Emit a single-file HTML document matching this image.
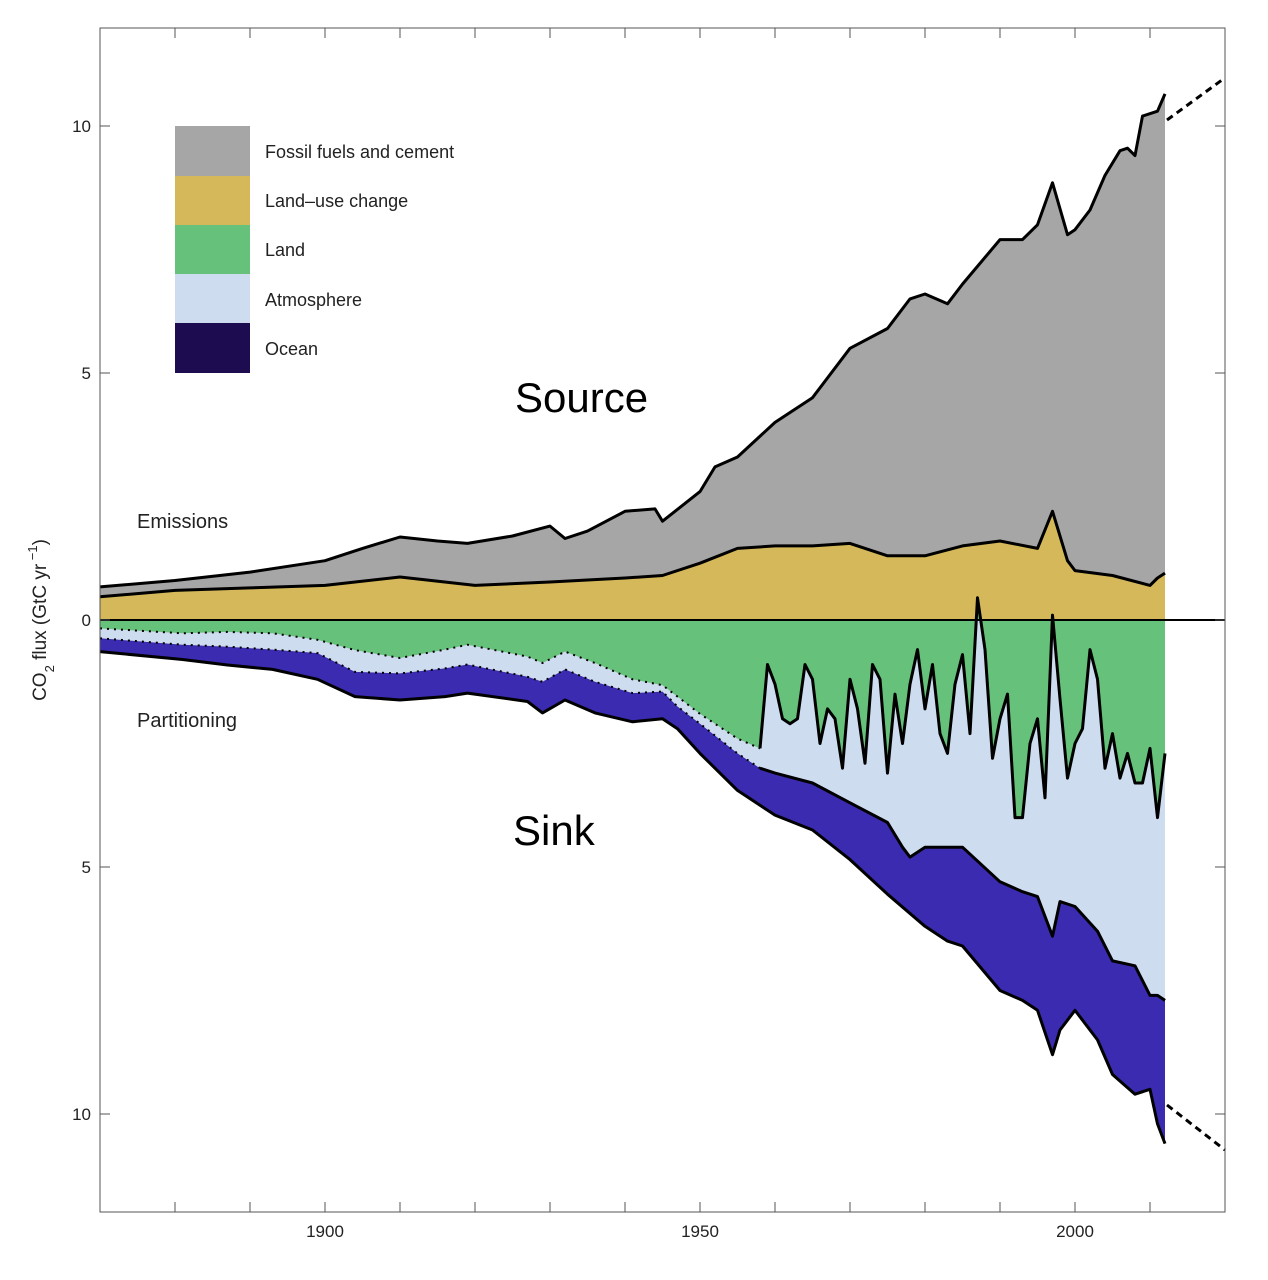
<!DOCTYPE html>
<html><head><meta charset="utf-8"><style>
body{margin:0;background:#fff;}
svg{display:block;font-family:"Liberation Sans",sans-serif;}
</style></head><body>
<svg id="chart" width="1268" height="1280" viewBox="0 0 1268 1280" xmlns="http://www.w3.org/2000/svg">
<g id="areas"></g>
<g id="axes"></g>
<g font-size="18" fill="#222">
<rect x="175" y="126" width="75" height="50" fill="#a6a6a6"/>
<rect x="175" y="176" width="75" height="49" fill="#d4b85a"/>
<rect x="175" y="225" width="75" height="49" fill="#66c27a"/>
<rect x="175" y="274" width="75" height="49" fill="#cedcef"/>
<rect x="175" y="323" width="75" height="50" fill="#1d0c50"/>
<text x="265" y="158">Fossil fuels and cement</text>
<text x="265" y="207">Land–use change</text>
<text x="265" y="256">Land</text>
<text x="265" y="306">Atmosphere</text>
<text x="265" y="355">Ocean</text>
</g>
<text x="515" y="412" font-size="42" fill="#000">Source</text>
<text x="513" y="845" font-size="42" fill="#000">Sink</text>
<text x="137" y="528" font-size="20" fill="#222">Emissions</text>
<text x="137" y="727" font-size="20" fill="#222">Partitioning</text>
<text transform="translate(46,620) rotate(-90)" text-anchor="middle" font-size="19" fill="#222">CO<tspan font-size="13" dy="8">2</tspan><tspan dy="-8"> flux (GtC yr</tspan><tspan font-size="13" dy="-9"> −1</tspan><tspan dy="9">)</tspan></text>
</svg>
<script>
const fossilYears=[1870,1880,1890,1900,1905,1910,1915,1919,1925,1930,1932,1935,1940,1944,1945,1950,1952,1955,1960,1965,1970,1975,1978,1980,1983,1985,1990,1993,1995,1997,1999,2000,2002,2004,2006,2007,2008,2009,2011,2012];
const fossilTotal=[0.67,0.8,0.97,1.2,1.45,1.68,1.6,1.55,1.7,1.9,1.65,1.8,2.2,2.25,2.0,2.6,3.1,3.3,4.0,4.5,5.5,5.9,6.5,6.6,6.4,6.8,7.7,7.7,8.0,8.85,7.8,7.9,8.3,9.0,9.5,9.55,9.4,10.2,10.3,10.65];
const lucYears=[1870,1880,1890,1900,1910,1920,1930,1940,1945,1950,1955,1960,1965,1970,1975,1980,1985,1990,1995,1997,1999,2000,2005,2010,2011,2012];
const lucTop=[0.47,0.6,0.65,0.7,0.87,0.7,0.77,0.85,0.9,1.15,1.45,1.5,1.5,1.55,1.3,1.3,1.5,1.6,1.45,2.2,1.2,1.0,0.9,0.7,0.85,0.95];
const landYears=[1870,1881,1887,1893,1899,1904,1910,1916,1919,1927,1929,1932,1936,1941,1945,1947,1950,1955,1958,1959,1960,1961,1962,1963,1964,1965,1966,1967,1968,1969,1970,1971,1972,1973,1974,1975,1976,1977,1978,1979,1980,1981,1982,1983,1984,1985,1986,1987,1988,1989,1990,1991,1992,1993,1994,1995,1996,1997,1998,1999,2000,2001,2002,2003,2004,2005,2006,2007,2008,2009,2010,2011,2012];
const landSink=[0.17,0.27,0.24,0.27,0.4,0.61,0.77,0.6,0.5,0.74,0.87,0.64,0.87,1.2,1.32,1.55,1.9,2.4,2.6,0.9,1.3,2.0,2.1,2.0,0.9,1.2,2.5,1.8,2.0,3.0,1.2,1.8,2.9,0.9,1.2,3.1,1.5,2.5,1.3,0.6,1.8,0.9,2.3,2.7,1.3,0.7,2.3,-0.45,0.6,2.8,2.0,1.5,4.0,4.0,2.5,2.0,3.6,-0.1,1.6,3.2,2.5,2.2,0.6,1.2,3.0,2.3,3.2,2.7,3.3,3.3,2.6,4.0,2.7];
const atmYears=[1870,1881,1887,1893,1899,1904,1910,1916,1919,1927,1929,1932,1936,1941,1945,1947,1950,1955,1958,1960,1965,1970,1975,1977,1978,1980,1985,1990,1993,1995,1997,1998,2000,2003,2005,2008,2010,2011,2012];
const atmSink=[0.37,0.5,0.54,0.6,0.67,1.05,1.08,0.98,0.9,1.15,1.25,1.0,1.25,1.48,1.45,1.75,2.1,2.7,3.0,3.1,3.3,3.7,4.1,4.6,4.8,4.6,4.6,5.3,5.5,5.6,6.4,5.7,5.8,6.3,6.9,7.0,7.6,7.6,7.7];
const oceanYears=[1870,1881,1887,1893,1899,1904,1910,1916,1919,1927,1929,1932,1936,1941,1945,1947,1950,1955,1958,1960,1965,1970,1975,1980,1983,1985,1990,1993,1995,1997,1998,2000,2003,2005,2008,2010,2011,2012];
const oceanSink=[0.64,0.8,0.91,1.0,1.2,1.55,1.62,1.55,1.48,1.65,1.88,1.62,1.88,2.06,2.0,2.2,2.7,3.45,3.75,3.95,4.25,4.85,5.55,6.2,6.5,6.6,7.5,7.7,7.9,8.8,8.3,7.9,8.5,9.2,9.6,9.5,10.2,10.6];
const xTickYears=[1880,1890,1900,1910,1920,1930,1940,1950,1960,1970,1980,1990,2000,2010];
const xLabelYears=[1900,1950,2000];
const yTickVals=[10,5,0,-5,-10];
const yTickLabels=["10","5","0","5","10"];

const NS="http://www.w3.org/2000/svg";
const L=100,R=1225,T=28,B=1212;
const xs=y=>L+(y-1870)*7.5;
const ys=v=>620-v*49.4;
const areas=document.getElementById('areas'),axes=document.getElementById('axes');
function mk(tag,attrs,parent){const e=document.createElementNS(NS,tag);for(const k in attrs)e.setAttribute(k,attrs[k]);parent.appendChild(e);return e;}
function linePts(years,vals,sign){return years.map((y,i)=>xs(y).toFixed(1)+','+ys(sign*vals[i]).toFixed(1));}
function area(years,vals,sign,fill,name){
  const pts=linePts(years,vals,sign);
  pts.push(xs(years[years.length-1])+','+ys(0));pts.push(xs(years[0])+','+ys(0));
  const p=mk('polygon',{points:pts.join(' '),fill:fill},areas);
  
  
}
function line(years,vals,sign,name,dash){
  const a={points:linePts(years,vals,sign).join(' '),fill:'none',stroke:'#000','stroke-width':dash?2:3,'stroke-linejoin':'round'};
  if(dash)a['stroke-dasharray']='2 5';
  const p=mk('polyline',a,areas);
  
  
}
area(fossilYears,fossilTotal,1,'#a6a6a6','fossil-area');
area(lucYears,lucTop,1,'#d4b85a','landuse-area');
area(oceanYears,oceanSink,-1,'#3a2bb0','ocean-area');
area(atmYears,atmSink,-1,'#cedcef','atmosphere-area');
area(landYears,landSink,-1,'#66c27a','land-area');
line(fossilYears,fossilTotal,1,'fossil-line');
line(lucYears,lucTop,1,'landuse-line');
line(oceanYears,oceanSink,-1,'ocean-line');
const ai=atmYears.indexOf(1958),li=landYears.indexOf(1958);
line(atmYears.slice(ai),atmSink.slice(ai),-1,'atmosphere-line');
line(landYears.slice(li),landSink.slice(li),-1,'land-line');
line(landYears.slice(0,li+1),landSink.slice(0,li+1),-1,'land-line-dotted',true);
line(atmYears.slice(0,ai+1),atmSink.slice(0,ai+1),-1,'atmosphere-line-dotted',true);
let z=mk('line',{x1:L,x2:R,y1:ys(0),y2:ys(0),stroke:'#000','stroke-width':2},areas);


const lastF=fossilYears[fossilYears.length-1];
let d1=mk('line',{x1:xs(lastF)+2,y1:120,x2:1222,y2:80,stroke:'#000','stroke-width':3,'stroke-dasharray':'7 5'},areas);


let d2=mk('line',{x1:xs(lastF)+2,y1:1105,x2:1225,y2:1150,stroke:'#000','stroke-width':3,'stroke-dasharray':'7 5'},areas);


let fr=mk('rect',{x:L,y:T,width:R-L,height:B-T,fill:'none',stroke:'#555','stroke-width':1},axes);


xTickYears.forEach(y=>{
  const t1=mk('line',{x1:xs(y),x2:xs(y),y1:B,y2:B-10,stroke:'#555'},axes);
  
  
  const t2=mk('line',{x1:xs(y),x2:xs(y),y1:T,y2:T+10,stroke:'#555'},axes);
  
  
});
xLabelYears.forEach(y=>{
  const t=mk('text',{x:xs(y),y:1237,'text-anchor':'middle','font-size':17,fill:'#222'},axes);
  t.textContent=y;
  
  
});
yTickVals.forEach((v,i)=>{
  const a=mk('line',{x1:L,x2:L+10,y1:ys(v),y2:ys(v),stroke:'#555'},axes);
  
  
  const b=mk('line',{x1:R-10,x2:R,y1:ys(v),y2:ys(v),stroke:'#555'},axes);
  
  
  const t=mk('text',{x:91,y:ys(v)+6,'text-anchor':'end','font-size':17,fill:'#222'},axes);
  t.textContent=yTickLabels[i];
  
  
});
</script>
</body></html>
